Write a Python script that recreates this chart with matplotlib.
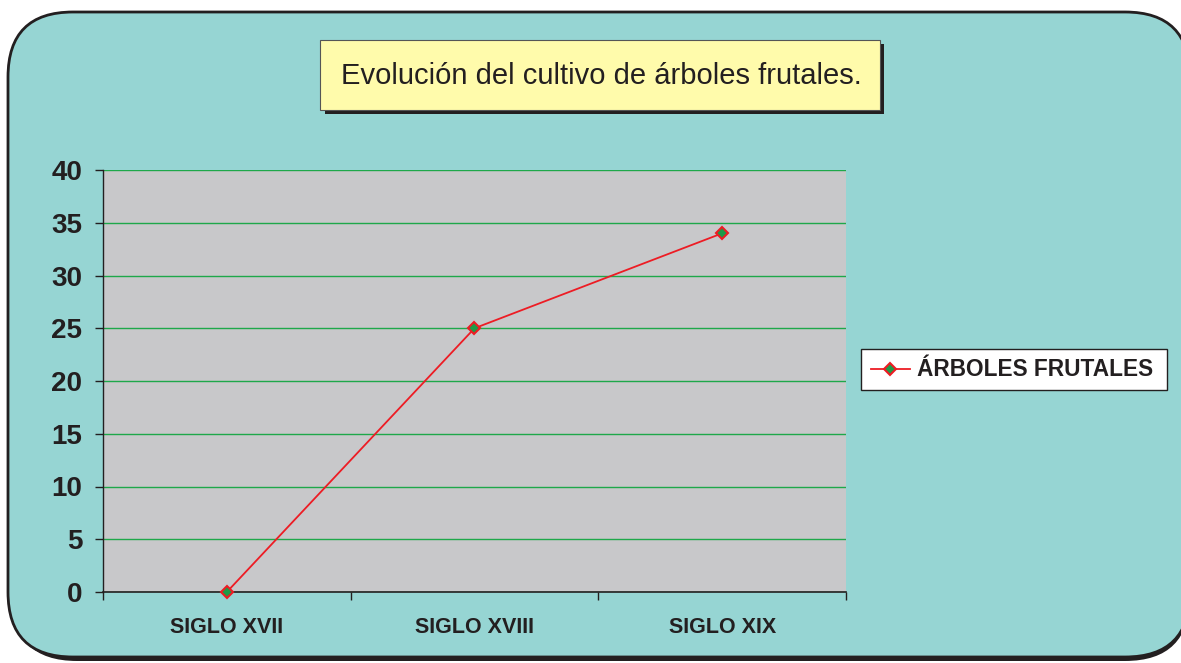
import matplotlib.pyplot as plt
from matplotlib.patches import FancyBboxPatch, Rectangle
from matplotlib.lines import Line2D

categories = ['SIGLO XVII', 'SIGLO XVIII', 'SIGLO XIX']
values = [0, 25, 34]
series_name = 'ÁRBOLES FRUTALES'
title = 'Evolución del cultivo de árboles frutales.'

W, H = 1181, 663
fig = plt.figure(figsize=(W / 100, H / 100), dpi=100)
fig.patch.set_facecolor('white')

teal = '#96D5D3'

def fx(px):
    return px / W

def fy(py):
    return 1 - py / H

# rounded background panel with dark shadow
shadow = FancyBboxPatch((fx(12), fy(661)), fx(1190) - fx(12), fy(16) - fy(661),
                        boxstyle='round,pad=0,rounding_size=0.055', mutation_aspect=W / H,
                        transform=fig.transFigure, facecolor='#231f20', edgecolor='none', zorder=-2)
panel = FancyBboxPatch((fx(8), fy(657)), fx(1190) - fx(8), fy(12) - fy(657),
                       boxstyle='round,pad=0,rounding_size=0.055', mutation_aspect=W / H,
                       transform=fig.transFigure, facecolor=teal, edgecolor='#231f20',
                       linewidth=2, zorder=-1)
fig.patches.extend([shadow, panel])

ax = fig.add_axes([fx(103), fy(592), fx(846) - fx(103), fy(170) - fy(592)])
ax.set_zorder(1)
ax.set_facecolor('#C8C8CA')
x = [i + 0.5 for i in range(len(categories))]
line, = ax.plot(x, values, color='#ED1C24', linewidth=1.3, marker='D', markersize=6,
                markerfacecolor='#1E9A48', markeredgecolor='#ED1C24', markeredgewidth=1.5,
                zorder=5, clip_on=False)
ax.set_xlim(0, 3)
ax.set_ylim(0, 40)
ax.set_yticks(range(0, 41, 5))
ax.set_xticks([0, 1, 2, 3])
ax.set_xticklabels([])
ax.set_xticks(x, minor=True)
ax.set_xticklabels(categories, minor=True, fontsize=15.5, fontweight='bold', color='#231f20',
                   family='Liberation Sans')
ax.tick_params(axis='x', which='minor', length=0, pad=18)
ax.tick_params(axis='x', which='major', length=6, width=1, color='#231f20')
ax.tick_params(axis='y', length=6, width=1, color='#231f20', labelsize=20, pad=9,
               labelcolor='#231f20')
for lab in ax.get_yticklabels():
    lab.set_fontweight('bold')
    lab.set_family('Liberation Sans')
ax.grid(axis='y', color='#1EA84A', linewidth=1)
ax.set_axisbelow(True)
for s in ['top', 'right']:
    ax.spines[s].set_visible(False)
ax.spines['left'].set_color('#231f20')
ax.spines['bottom'].set_color('#231f20')
ax.spines['left'].set_linewidth(1)
ax.spines['bottom'].set_linewidth(1.2)

# title box with shadow
fig.patches.append(Rectangle((fx(325), fy(114)), fx(884) - fx(325), fy(44) - fy(114),
                             transform=fig.transFigure, facecolor='#231f20',
                             edgecolor='none', zorder=1))
fig.patches.append(Rectangle((fx(320), fy(110)), fx(880) - fx(320), fy(40) - fy(110),
                             transform=fig.transFigure, facecolor='#FFFBAB',
                             edgecolor='#555555', linewidth=0.8, zorder=2))
fig.text(fx(601), fy(76), title, ha='center', va='center', fontsize=21,
         color='#231f20', family='Liberation Sans', zorder=3)

# legend box
fig.patches.append(Rectangle((fx(861), fy(390)), fx(1167) - fx(861), fy(349) - fy(390),
                             transform=fig.transFigure, facecolor='white',
                             edgecolor='#231f20', linewidth=1, zorder=2))
fig.lines.append(Line2D([fx(871), fx(910)], [fy(369), fy(369)], transform=fig.transFigure,
                        color='#ED1C24', linewidth=1.3, marker=None, zorder=3))
fig.lines.append(Line2D([fx(890)], [fy(369)], transform=fig.transFigure, marker='D',
                        markersize=6, markerfacecolor='#1E9A48', markeredgecolor='#ED1C24',
                        markeredgewidth=1.5, zorder=4))
fig.text(fx(917), fy(369), series_name, ha='left', va='center', fontsize=16.3,
         fontweight='bold', color='#231f20', family='Liberation Sans', zorder=3)

fig.savefig('out.png', dpi=100, facecolor=fig.get_facecolor())
